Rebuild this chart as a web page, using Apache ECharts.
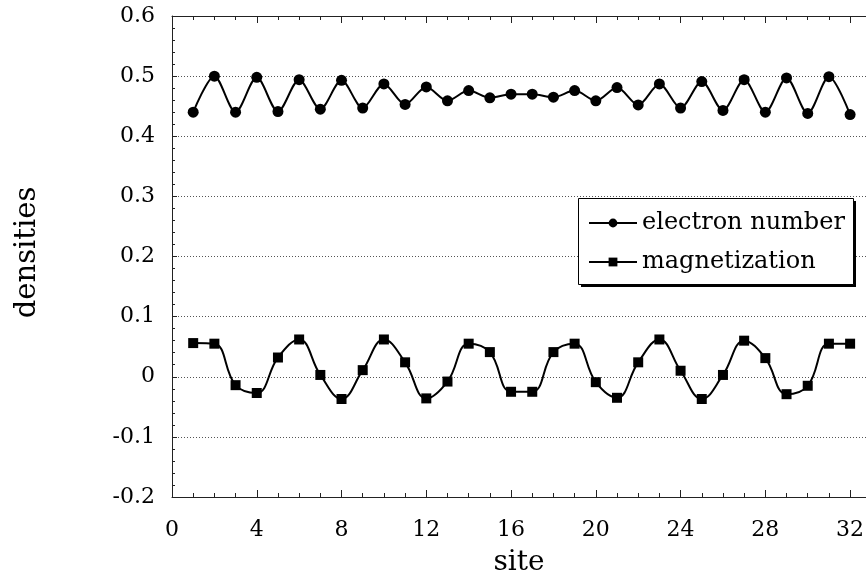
<!DOCTYPE html>
<html>
<head>
<meta charset="utf-8">
<script src="https://cdn.jsdelivr.net/npm/echarts@6/dist/echarts.min.js"></script>
<style>html,body{margin:0;padding:0;background:#fff}#c{width:866px;height:580px}</style>
</head>
<body>
<div id="c"></div>
<script>
const sites = [1,2,3,4,5,6,7,8,9,10,11,12,13,14,15,16,17,18,19,20,21,22,23,24,25,26,27,28,29,30,31,32];
const electronNumber = [0.440,0.500,0.440,0.498,0.441,0.494,0.445,0.493,0.447,0.487,0.453,0.482,0.459,0.476,0.464,0.470,
                        0.470,0.465,0.476,0.459,0.481,0.452,0.487,0.447,0.491,0.443,0.494,0.440,0.497,0.438,0.499,0.436];
const magnetization = [0.056,0.055,-0.014,-0.027,0.032,0.062,0.003,-0.037,0.011,0.062,0.024,-0.036,-0.008,0.055,0.041,-0.025,
                       -0.025,0.041,0.055,-0.009,-0.035,0.024,0.062,0.010,-0.037,0.003,0.060,0.031,-0.029,-0.015,0.055,0.055];
const seriesNames = ['electron number','magnetization'];
const xMajorStep = 4;
const yTickLabels = ['-0.2','-0.1','0','0.1','0.2','0.3','0.4','0.5','0.6'];

const FONT = 'DejaVu Serif';
const chart = echarts.init(document.getElementById('c'), null, {renderer:'canvas'});

function xAx(pos, interval, tickLen, showLabel, showLine) {
  return {
    type:'value', position:pos, min:0, max:32.75, interval:interval,
    axisLine:{show:showLine, onZero:false, lineStyle:{color:'#222', width:1}},
    axisTick:{show:true, inside:true, length:tickLen, lineStyle:{color:'#222', width:1}},
    axisLabel:{show:showLabel, margin:22, fontFamily:FONT, fontSize:22, color:'#000',
      formatter: v => (Math.abs(v % xMajorStep) < 1e-9 ? String(v) : '')},
    splitLine:{show:false},
    name: showLabel ? 'site' : '', nameLocation:'middle', nameGap:52,
    nameTextStyle:{fontFamily:FONT, fontSize:28, color:'#000'}
  };
}

const option = {
  animation:false,
  backgroundColor:'#fff',
  grid:{left:172, right:0, top:16, bottom:83, containLabel:false, outerBoundsMode:'none'},
  graphic:[
    {type:'rect', left:581, top:201, z:50, shape:{width:275, height:86}, style:{fill:'#000'}},
    {type:'rect', left:578, top:198, z:51, shape:{width:275, height:86}, style:{fill:'#fff', stroke:'#000', lineWidth:1}}
  ],
  xAxis:[
    xAx('bottom', 1, 4, true, true),
    xAx('bottom', xMajorStep, 7, false, false),
    xAx('top', 1, 4, false, true),
    xAx('top', xMajorStep, 7, false, false)
  ],
  yAxis:{
    type:'value', min:-0.2, max:0.6, interval:0.1,
    axisLine:{show:true, onZero:false, lineStyle:{color:'#222', width:1}},
    axisTick:{show:true, inside:true, length:5, lineStyle:{color:'#222'}},
    minorTick:{show:true, splitNumber:5, length:3, lineStyle:{color:'#222'}},
    axisLabel:{margin:17, fontFamily:FONT, fontSize:22, color:'#000',
      formatter: v => yTickLabels[Math.round((v + 0.2) * 10)]},
    splitLine:{show:true, lineStyle:{color:'#555', width:1, type:[1,2]}},
    name:'densities', nameLocation:'middle', nameGap:130,
    nameTextStyle:{fontFamily:FONT, fontSize:29, color:'#000', padding:[0,0,0,8]}
  },
  legend:{
    orient:'vertical', left:588, top:210, z:60,
    padding:0, itemGap:13, itemWidth:48, itemHeight:11,
    textStyle:{fontFamily:FONT, fontSize:24, color:'#000', lineHeight:26},
    data:seriesNames
  },
  series:[
    {
      name:seriesNames[0], type:'line', smooth:0.3,
      data: sites.map((s,i) => [s, electronNumber[i]]),
      symbol:'circle', symbolSize:11,
      lineStyle:{color:'#000', width:2},
      itemStyle:{color:'#000'}
    },
    {
      name:seriesNames[1], type:'line', smooth:0.42,
      data: sites.map((s,i) => [s, magnetization[i]]),
      symbol:'rect', symbolSize:10,
      lineStyle:{color:'#000', width:2},
      itemStyle:{color:'#000'}
    }
  ]
};
chart.setOption(option);
</script>
</body>
</html>
